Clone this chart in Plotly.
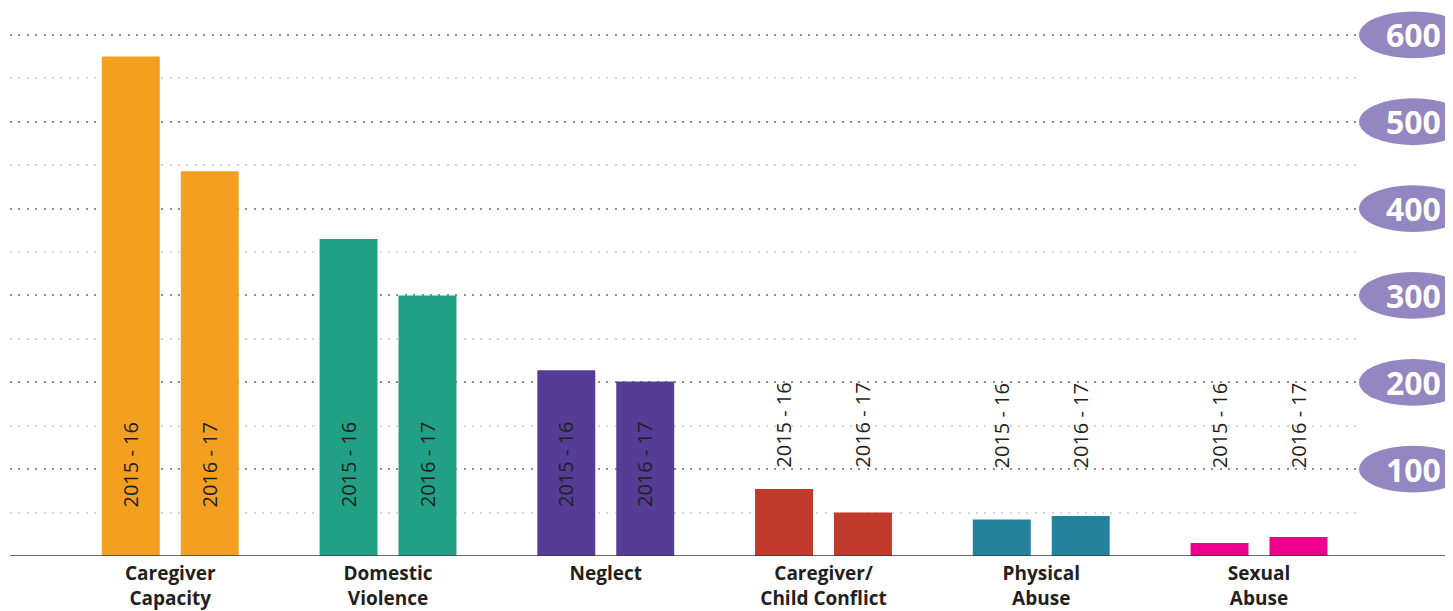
import plotly.graph_objects as go

categories = ["Caregiver<br>Capacity", "Domestic<br>Violence", "Neglect",
              "Caregiver/<br>Child Conflict", "Physical<br>Abuse", "Sexual<br>Abuse"]
series_names = ["2015 - 16", "2016 - 17"]
values_2015_16 = [575, 365, 214, 77, 42, 15]
values_2016_17 = [443, 300, 201, 50, 46, 22]
colors = ["#F39F1F", "#21A085", "#553D97", "#C0392B", "#23819C", "#EC008C"]
badge_ticks = [100, 200, 300, 400, 500, 600]

OFF = 8  # page body margin
W, H = 1453 - OFF, 611 - OFF
ml, mr, mt, mb = 2, 91, 0, 53
plot_w = W - ml - mr
plot_h = H - mt - mb
px_per_unit = 0.8717
y_max = plot_h / px_per_unit

def px_to_paper(px):
    return (px - OFF - ml) / plot_w

fig = go.Figure()
for name, vals in zip(series_names, [values_2015_16, values_2016_17]):
    fig.add_trace(go.Bar(
        x=categories, y=vals, name=name,
        marker=dict(color=colors, line=dict(width=0)),
        hoverinfo="x+y+name",
    ))

# bar year labels (rotated)
slot_px = 79
for si, (name, vals) in enumerate(zip(series_names, [values_2015_16, values_2016_17])):
    shift = (-0.5 if si == 0 else 0.5) * slot_px
    for cat, v in zip(categories, vals):
        inside = v > 180
        fig.add_annotation(
            x=cat, y=105 if inside else 150, xref="x", yref="y",
            text=name, textangle=-90, showarrow=False, xshift=shift,
            font=dict(family="Open Sans", size=20, color="#231f20"),
        )

# badges on the right
half_h = 23.5 / px_per_unit
bx0 = px_to_paper(1359)
bx1 = px_to_paper(1467)
for t in badge_ticks:
    fig.add_shape(type="circle", xref="paper", yref="y",
                  x0=bx0, x1=bx1, y0=t - half_h, y1=t + half_h,
                  fillcolor="#9486C0", line=dict(width=0), layer="above")
    fig.add_annotation(x=px_to_paper(1413), y=t, xref="paper", yref="y",
                       xanchor="center", yanchor="middle",
                       text="<b>%d</b>" % t, showarrow=False,
                       font=dict(family="Open Sans", size=32, color="white"))

# baseline
fig.add_shape(type="line", xref="paper", yref="y",
              x0=0, x1=px_to_paper(1447), y0=0, y1=0,
              line=dict(color="#3a3a3a", width=1.5), layer="above")

fig.update_layout(
    width=W, height=H,
    margin=dict(l=ml, r=mr, t=mt, b=mb),
    plot_bgcolor="white", paper_bgcolor="white",
    barmode="group", bargap=0.275, bargroupgap=0.266,
    showlegend=False,
    xaxis=dict(range=[-0.736, 5.473], showgrid=False, zeroline=False,
               showline=False, ticks="", fixedrange=True, ticklabelstandoff=4,
               tickfont=dict(family="Open Sans", size=19, color="#231f20", weight="bold")),
    yaxis=dict(range=[0, y_max], dtick=100, showticklabels=False,
               showgrid=True, gridcolor="#8c8c90", gridwidth=2, griddash="2px,6.4px",
               zeroline=False, showline=False, fixedrange=True,
               minor=dict(dtick=50, showgrid=True, gridcolor="#d6d6d8",
                          gridwidth=2, griddash="2px,6.4px")),
)

fig.write_html("out.html")
